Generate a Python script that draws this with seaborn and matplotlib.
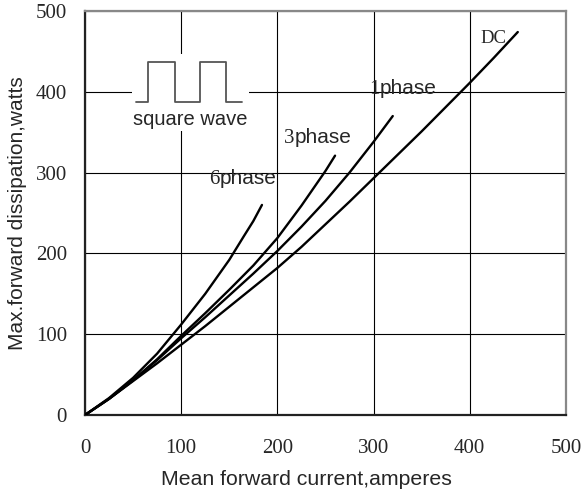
import seaborn as sns
import matplotlib.pyplot as plt
import pandas as pd
from matplotlib.patches import Rectangle

# curves (A, W)
dc_x = [0, 25, 50, 75, 100, 125, 150, 175, 200, 225, 250, 275, 300, 325, 350, 375, 400, 425, 450]
dc_y = [0, 20, 42, 64, 87, 110, 134, 158, 182, 208, 236, 264, 293, 322, 351, 381, 411, 442, 474]

ph1_x = [0, 25, 50, 75, 100, 125, 150, 175, 200, 225, 250, 275, 300, 320]
ph1_y = [0, 20, 43, 68, 95, 121, 148, 175, 203, 233, 265, 300, 338, 370]

ph3_x = [0, 25, 50, 75, 100, 125, 150, 175, 200, 225, 250, 260]
ph3_y = [0, 20, 43, 69, 98, 126, 155, 185, 219, 259, 302, 321]

ph6_x = [0, 25, 50, 75, 100, 125, 150, 165, 175, 184]
ph6_y = [0, 21, 46, 76, 112, 150, 192, 221, 240, 260]

# little square wave sketch
wave_x = [53, 66, 66, 94, 94, 120, 120, 147, 147, 163]
wave_y = [388, 388, 437, 437, 388, 388, 437, 437, 388, 388]

ticks = [0, 100, 200, 300, 400, 500]

# labels: (digit, rest, x, y)
curve_labels = [("6", "phase", 140, 286), ("3", "phase", 218, 337), ("1", "phase", 306, 397)]

df = pd.concat([
    pd.DataFrame({"I": dc_x, "P": dc_y, "curve": "DC"}),
    pd.DataFrame({"I": ph1_x, "P": ph1_y, "curve": "1phase"}),
    pd.DataFrame({"I": ph3_x, "P": ph3_y, "curve": "3phase"}),
    pd.DataFrame({"I": ph6_x, "P": ph6_y, "curve": "6phase"}),
])

sns.set_style("white")
plt.rcParams["font.family"] = ["Liberation Sans", "DejaVu Sans"]

fig = plt.figure(figsize=(5.85, 4.92), dpi=100)
ax = fig.add_axes([0.1453, 0.1565, 0.822, 0.8211])

sns.lineplot(data=df, x="I", y="P", hue="curve", units="curve", estimator=None, sort=False,
             palette=["black"] * 4, linewidth=1.7, legend=False, ax=ax, zorder=3)

ax.set_xlim(0, 500)
ax.set_ylim(0, 500)
ax.set_xticks(ticks)
ax.set_yticks(ticks)
ax.set_xticklabels([str(t) for t in ticks], family="Liberation Serif", fontsize=15)
ax.set_yticklabels([str(t) for t in ticks], family="Liberation Serif", fontsize=15)
ax.tick_params(axis="x", length=0, pad=17)
ax.tick_params(axis="y", length=0, pad=13)
ax.grid(True, color="black", linewidth=0.8)
ax.set_axisbelow(True)

for s in ["left", "bottom"]:
    ax.spines[s].set_color("#222222")
    ax.spines[s].set_linewidth(1.6)
for s in ["top", "right"]:
    ax.spines[s].set_color("#888888")
    ax.spines[s].set_linewidth(1.6)

ax.set_xlabel("Mean forward current,amperes", fontsize=15.3, labelpad=9)
ax.xaxis.label.set_x(0.4615)
ax.set_ylabel("Max.forward dissipation,watts", fontsize=15, labelpad=6)

# inset: white patch over the grid, square wave and its caption
ax.add_patch(Rectangle((49, 352), 122, 95, facecolor="white", edgecolor="none", zorder=2))
ax.plot(wave_x, wave_y, color="#555555", linewidth=1.3, zorder=3)
ax.text(109, 359, "square wave", ha="center", va="baseline", fontsize=14.5, zorder=4)

for digit, rest, x, y in curve_labels:
    ax.text(x, y, digit, ha="right", va="baseline", family="Liberation Serif", fontsize=15, zorder=4)
    ax.text(x, y, rest, ha="left", va="baseline", fontsize=15, zorder=4)
ax.text(411, 460, "DC", ha="left", va="baseline", family="Liberation Serif", fontsize=13.5, zorder=4)

fig.savefig("out.png", dpi=100)
